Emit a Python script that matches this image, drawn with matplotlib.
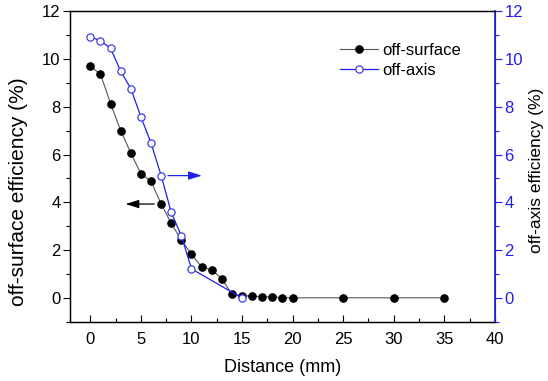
import matplotlib
matplotlib.use("Agg")
import matplotlib.pyplot as plt
from matplotlib.ticker import MultipleLocator

plt.rcParams['font.family'] = ['Liberation Sans', 'DejaVu Sans']

# Data
surf_x = [0, 1, 2, 3, 4, 5, 6, 7, 8, 9, 10, 11, 12, 13, 14, 15, 16, 17, 18, 19, 20, 25, 30, 35]
surf_y = [9.69, 9.36, 8.13, 7.0, 6.06, 5.2, 4.88, 3.93, 3.12, 2.42, 1.83, 1.3, 1.18, 0.81,
          0.15, 0.1, 0.08, 0.06, 0.04, 0.02, 0.01, 0.01, 0.01, 0.01]
axis_x = [0, 1, 2, 3, 4, 5, 6, 7, 8, 9, 10, 15]
axis_y = [10.92, 10.76, 10.44, 9.48, 8.76, 7.57, 6.48, 5.12, 3.58, 2.6, 1.22, 0.0]

xticks = [0, 5, 10, 15, 20, 25, 30, 35, 40]
yticks = [0, 2, 4, 6, 8, 10, 12]

BLUE = '#2020f0'
BLUE_L = '#4040e0'

fig = plt.figure(figsize=(5.48, 3.81), dpi=100)
ax = fig.add_axes([0.128, 0.155, 0.775, 0.816])
ax2 = ax.twinx()

l1, = ax.plot(surf_x, surf_y, color='#555555', lw=0.8, marker='o', ms=5.2,
              mfc='black', mec='black', label='off-surface')
l2, = ax2.plot(axis_x, axis_y, color=BLUE, lw=0.9, marker='o', ms=5.2,
               mfc='white', mec=BLUE_L, mew=0.9, label='off-axis')

for a in (ax, ax2):
    a.set_xlim(-2, 40)
    a.set_ylim(-1, 12)

ax.set_xticks(xticks)
ax.set_yticks(yticks)
ax2.set_yticks(yticks)
ax.xaxis.set_minor_locator(MultipleLocator(2.5))
ax.yaxis.set_minor_locator(MultipleLocator(1))
ax2.yaxis.set_minor_locator(MultipleLocator(1))

ax.tick_params(axis='x', which='major', direction='in', length=5, width=0.8, labelsize=12, pad=7, top=False)
ax.tick_params(axis='x', which='minor', direction='in', length=3, width=0.8, top=False)
ax.tick_params(axis='y', which='major', direction='out', length=5, width=0.8, labelsize=12, pad=2)
ax.tick_params(axis='y', which='minor', direction='out', length=3, width=0.8)
ax2.tick_params(axis='y', which='major', direction='out', length=5, width=0.8, labelsize=12, pad=2,
                colors=BLUE, labelcolor=BLUE)
ax2.tick_params(axis='y', which='minor', direction='out', length=3, width=0.8, colors=BLUE)
ax2.spines['right'].set_color(BLUE)
ax2.spines['right'].set_linewidth(1.2)
for s in ('left', 'bottom', 'top'):
    ax.spines[s].set_linewidth(1.0)

ax.set_xlabel('Distance (mm)', fontsize=13, labelpad=9)
ax.set_ylabel('off-surface efficiency (%)', fontsize=15)
ax2.set_ylabel('off-axis efficiency (%)', fontsize=12.5)
ax.yaxis.set_label_coords((28 - 70) / 425, 0.418)
ax2.yaxis.set_label_coords((529 - 70) / 425, 0.489)

# Arrows
ax.annotate('', xy=(3.2, surf_y[7]), xytext=(6.6, surf_y[7]),
            arrowprops=dict(arrowstyle='-|>,head_length=0.8,head_width=0.25', color='black', lw=0.9, mutation_scale=10))
ax2.annotate('', xy=(11.3, axis_y[7]), xytext=(7.4, axis_y[7]),
             arrowprops=dict(arrowstyle='-|>,head_length=0.8,head_width=0.25', color=BLUE, lw=0.9, mutation_scale=10))

ax.legend([l1, l2], ['off-surface', 'off-axis'], loc='upper left',
          bbox_to_anchor=(0.62, 0.92), frameon=False, fontsize=12,
          handlelength=2.3, handletextpad=0.25, labelspacing=0.3, borderaxespad=0)

fig.savefig('out.png', dpi=100)
